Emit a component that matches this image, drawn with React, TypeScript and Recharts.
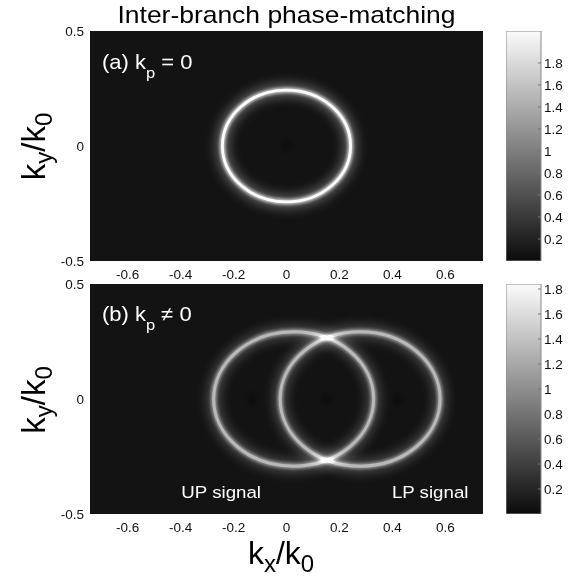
import React from 'react';
import {
  ScatterChart,
  Scatter,
  XAxis,
  YAxis,
  ReferenceArea,
  ReferenceDot,
  BarChart,
  Bar,
} from 'recharts';

const FONT = '"Liberation Sans", Arial, Helvetica, sans-serif';

// ---- axes ----
const xTicks = [-0.6, -0.4, -0.2, 0, 0.2, 0.4, 0.6];
const yTicks = [-0.5, 0, 0.5];
const xDomain: [number, number] = [-0.742, 0.742];
const yDomain: [number, number] = [-0.5, 0.5];

// ---- ring ridges: centre, semi-axes (k/k0), peak intensity ----
const ringsA = [{ cx: 0, cy: 0, rx: 0.242, ry: 0.243, peak: 1.9 }];
const ringsB = [
  { cx: 0.027, cy: 0, rx: 0.302, ry: 0.292, peak: 1.2 },
  { cx: 0.278, cy: 0, rx: 0.302, ry: 0.292, peak: 1.2 },
];

// ---- faint dark minima ----
const darkSpotsA = [{ x: 0, y: 0 }];
const darkSpotsB = [
  { x: -0.13, y: 0 },
  { x: 0.15, y: 0 },
  { x: 0.42, y: 0 },
];

// ---- colour bars ----
const cbTicks = [0.2, 0.4, 0.6, 0.8, 1, 1.2, 1.4, 1.6, 1.8];
const cbMaxA = 2.09;
const cbMaxB = 1.84;

// ---- annotations ----
const panelLabelsA = [{ x: -0.697, y: 0.333, main: '(a) k', sub: 'p', rest: ' = 0' }];
const panelLabelsB = [{ x: -0.697, y: 0.339, main: '(b) k', sub: 'p', rest: ' \u2260 0' }];
const signalLabels = [
  { x: -0.397, y: -0.43, text: 'UP signal' },
  { x: 0.398, y: -0.43, text: 'LP signal' },
];

const BG = '#131313';

const gray = (v: number, max: number) => {
  const g = Math.round(Math.max(0, Math.min(1, v / max)) * 255);
  return `rgb(${g},${g},${g})`;
};

const ringShape = (color: string, core: number) => (p: any) => {
  const w = Math.abs(p.width);
  const h = Math.abs(p.height);
  const cx = Math.min(p.x, p.x + p.width) + w / 2;
  const cy = Math.min(p.y, p.y + p.height) + h / 2;
  const rx = w / 2;
  const ry = h / 2;
  return (
    <g style={{ mixBlendMode: 'plus-lighter' as any }}>
      <ellipse cx={cx} cy={cy} rx={rx} ry={ry} fill="none" stroke={color} strokeOpacity={0.25} strokeWidth={16} filter="url(#glowWide)" />
      <ellipse cx={cx} cy={cy} rx={rx} ry={ry} fill="none" stroke={color} strokeOpacity={0.7} strokeWidth={core + 3} filter="url(#glowMid)" />
      <ellipse cx={cx} cy={cy} rx={rx} ry={ry} fill="none" stroke={color} strokeWidth={core} filter="url(#glowCore)" />
    </g>
  );
};

const spotShape = (p: any) => (
  <ellipse cx={p.cx} cy={p.cy} rx={3.5} ry={6} fill="#000" fillOpacity={0.5} filter="url(#spotBlur)" />
);

const panelLabelShape = (l: any) => (p: any) => (
  <text
    transform={`translate(${p.cx},${p.cy}) scale(1.1,1)`}
    x={0}
    y={0}
    fill="#fff"
    fontSize={20}
    fontFamily={FONT}
  >
    {l.main}
    <tspan fontSize={15} dy={9}>{l.sub}</tspan>
    <tspan dy={-9}>{l.rest}</tspan>
  </text>
);

const signalShape = (l: any) => (p: any) => (
  <text
    transform={`translate(${p.cx},${p.cy}) scale(1.1,1)`}
    x={0}
    y={0}
    fill="#fff"
    fontSize={17}
    fontFamily={FONT}
  >
    {l.text}
  </text>
);

type PanelProps = {
  rings: { cx: number; cy: number; rx: number; ry: number; peak: number }[];
  spots: { x: number; y: number }[];
  labels: { x: number; y: number; main: string; sub: string; rest: string }[];
  signals: { x: number; y: number; text: string }[];
  cbMax: number;
  height: number;
  marginTop: number;
  core: number;
};

function Panel({ rings, spots, labels, signals, cbMax, height, marginTop, core }: PanelProps) {
  return (
    <ScatterChart width={500} height={height} margin={{ top: marginTop, right: 17, bottom: 4, left: 0 }}>
      <XAxis
        type="number"
        dataKey="x"
        domain={xDomain}
        ticks={xTicks}
        allowDataOverflow
        interval={0}
        height={25}
        axisLine={false}
        tickLine={false}
        tickSize={6}
        tickMargin={2}
        tick={{ fontSize: 13.5, fill: '#111', fontFamily: FONT }}
      />
      <YAxis
        type="number"
        dataKey="y"
        domain={yDomain}
        ticks={yTicks}
        allowDataOverflow
        interval={0}
        width={90}
        axisLine={false}
        tickLine={false}
        tickSize={4}
        tickMargin={2}
        tick={{ fontSize: 13.5, fill: '#111', fontFamily: FONT }}
      />
      <ReferenceArea
        x1={xDomain[0]}
        x2={xDomain[1]}
        y1={yDomain[0]}
        y2={yDomain[1]}
        fill={BG}
        fillOpacity={1}
        stroke="none"
        ifOverflow="visible"
      />
      {rings.map((r, i) => (
        <ReferenceArea
          key={`ring-${i}`}
          x1={r.cx - r.rx}
          x2={r.cx + r.rx}
          y1={r.cy - r.ry}
          y2={r.cy + r.ry}
          shape={ringShape(gray(r.peak, cbMax), core)}
        />
      ))}
      <Scatter data={spots} isAnimationActive={false} shape={spotShape} />
      {labels.map((l, i) => (
        <ReferenceDot key={`pl-${i}`} x={l.x} y={l.y} shape={panelLabelShape(l)} />
      ))}
      {signals.map((l, i) => (
        <ReferenceDot key={`sl-${i}`} x={l.x} y={l.y} shape={signalShape(l)} />
      ))}
    </ScatterChart>
  );
}

function ColorBar({ max }: { max: number }) {
  const data = [{ name: 'cb', v: max }];
  return (
    <BarChart
      width={74}
      height={250}
      data={data}
      margin={{ top: 10, right: 0, bottom: 10, left: 0 }}
      barCategoryGap={0}
      barGap={0}
    >
      <XAxis dataKey="name" hide />
      <YAxis
        yAxisId="r"
        orientation="right"
        type="number"
        domain={[0, max]}
        ticks={cbTicks}
        allowDataOverflow
        interval={0}
        width={39}
        axisLine={false}
        tickSize={-3}
        tickMargin={6}
        tickLine={{ stroke: '#777' }}
        tick={{ fontSize: 13.5, fill: '#111', fontFamily: FONT }}
      />
      <Bar yAxisId="r" dataKey="v" fill="url(#cbGrad)" stroke="#8a8a8a" strokeWidth={1} isAnimationActive={false} />
    </BarChart>
  );
}

function YLabel({ cy }: { cy: number }) {
  return (
    <text transform={`translate(45,${cy}) rotate(-90)`} x={0} y={0} textAnchor="middle" fontSize={33} fill="#000">
      k
      <tspan fontSize={24} dy={7}>y</tspan>
      <tspan dy={-7}>/k</tspan>
      <tspan fontSize={24} dy={7}>0</tspan>
    </text>
  );
}

export default function App() {
  return (
    <div
      style={{
        position: 'absolute',
        left: 0,
        top: 0,
        width: 580,
        height: 576,
        background: '#fff',
        fontFamily: FONT,
        overflow: 'hidden',
      }}
    >
      <svg width={0} height={0} style={{ position: 'absolute' }} aria-hidden="true">
        <defs>
          <filter id="glowWide" x="-30%" y="-30%" width="160%" height="160%">
            <feGaussianBlur stdDeviation={5} />
          </filter>
          <filter id="glowMid" x="-30%" y="-30%" width="160%" height="160%">
            <feGaussianBlur stdDeviation={1.8} />
          </filter>
          <filter id="glowCore" x="-30%" y="-30%" width="160%" height="160%">
            <feGaussianBlur stdDeviation={0.7} />
          </filter>
          <filter id="spotBlur" x="-150%" y="-150%" width="400%" height="400%">
            <feGaussianBlur stdDeviation={3} />
          </filter>
          <linearGradient id="cbGrad" x1="0" y1="1" x2="0" y2="0">
            <stop offset="0" stopColor="#0b0b0b" />
            <stop offset="1" stopColor="#fbfbfb" />
          </linearGradient>
        </defs>
      </svg>

      <div style={{ position: 'absolute', left: 0, top: 0 }}>
        <Panel rings={ringsA} spots={darkSpotsA} labels={panelLabelsA} signals={[]} cbMax={cbMaxA} height={290} marginTop={31} core={2.8} />
      </div>
      <div style={{ position: 'absolute', left: 0, top: 270 }}>
        <Panel rings={ringsB} spots={darkSpotsB} labels={panelLabelsB} signals={signalLabels} cbMax={cbMaxB} height={273} marginTop={14} core={3} />
      </div>
      <div style={{ position: 'absolute', left: 506, top: 21 }}>
        <ColorBar max={cbMaxA} />
      </div>
      <div style={{ position: 'absolute', left: 506, top: 274 }}>
        <ColorBar max={cbMaxB} />
      </div>

      <svg width={580} height={576} style={{ position: 'absolute', left: 0, top: 0, pointerEvents: 'none' }}>
        <text x={117.5} y={23} fontSize={24} textLength={338} lengthAdjust="spacingAndGlyphs" fill="#000">
          Inter-branch phase-matching
        </text>
        <YLabel cy={146.5} />
        <YLabel cy={400} />
        <text x={281} y={564} textAnchor="middle" fontSize={32} fill="#000">
          k
          <tspan fontSize={24} dy={8}>x</tspan>
          <tspan dy={-8}>/k</tspan>
          <tspan fontSize={24} dy={8}>0</tspan>
        </text>
      </svg>
    </div>
  );
}
